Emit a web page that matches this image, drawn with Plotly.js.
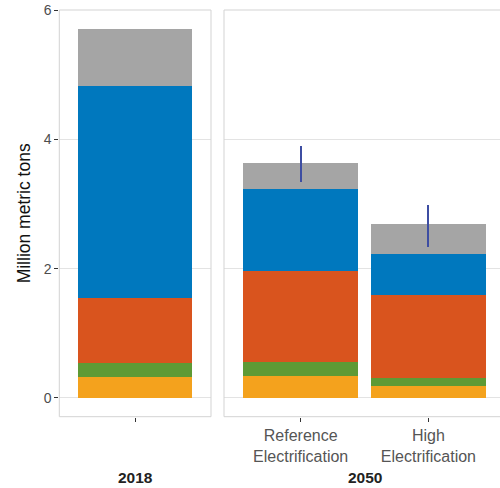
<!DOCTYPE html>
<html>
<head>
<meta charset="utf-8">
<script src="https://cdn.plot.ly/plotly-3.0.1.min.js"></script>
<style>html,body{margin:0;padding:0;background:#fff;overflow:hidden}#chart{width:500px;height:488px}</style>
</head>
<body>
<div id="chart"></div>
<script>
// Categories
const cats2018 = ["2018"];
const ticks2018 = [""];
const cats2050 = ["Reference Electrification", "High Electrification"];
const ticks2050 = ["Reference<br>Electrification", "High<br>Electrification"];
const panelLabels = ["2018", "2050"];

// Segment values (bottom to top), million metric tons
const yellow2018 = [0.33];  const yellow2050 = [0.34, 0.18];
const green2018  = [0.206]; const green2050  = [0.212, 0.133];
const orange2018 = [1.004]; const orange2050 = [1.417, 1.279];
const blue2018   = [3.285]; const blue2050   = [1.263, 0.629];
const gray2018   = [0.881]; const gray2050   = [0.396, 0.468];

// Error bars on 2050 totals
const errPlus2050  = [0.272, 0.294];
const errMinus2050 = [0.293, 0.355];

const colors = {yellow:"#F4A21D", green:"#5E9A35", orange:"#D9541E", blue:"#0078BE", gray:"#A5A5A5"};
const segs2018 = [["yellow",yellow2018],["green",green2018],["orange",orange2018],["blue",blue2018],["gray",gray2018]];
const segs2050 = [["yellow",yellow2050],["green",green2050],["orange",orange2050],["blue",blue2050],["gray",gray2050]];

const traces = [];
segs2018.forEach(([c,v]) => traces.push({type:"bar", x:cats2018, y:v, xaxis:"x", yaxis:"y",
  marker:{color:colors[c], line:{width:0}}, showlegend:false, hoverinfo:"skip", width:0.9}));
segs2050.forEach(([c,v],i) => {
  const t = {type:"bar", x:cats2050, y:v, xaxis:"x2", yaxis:"y2",
    marker:{color:colors[c], line:{width:0}}, showlegend:false, hoverinfo:"skip", width:0.9};
  if (i === segs2050.length-1) {
    t.error_y = {type:"data", symmetric:false, array:errPlus2050, arrayminus:errMinus2050,
      color:"#3D4DA2", thickness:2, width:0, visible:true};
  }
  traces.push(t);
});

const W=500, H=488;
const px = v => v/W, py = v => 1 - v/H;
const x1l=59.3, x1r=211, x2l=224, x2r=500, yt=10, yb=416.7;
const border = "#D3D3D3";
const shapes = [
  {type:"rect", xref:"paper", yref:"paper", x0:px(x1l), x1:px(x1r), y0:py(yb), y1:py(yt), line:{color:border,width:1}},
  {type:"line", xref:"paper", yref:"paper", x0:px(x2l), x1:px(x2l), y0:py(yb), y1:py(yt), line:{color:border,width:1}},
  {type:"line", xref:"paper", yref:"paper", x0:px(x2l), x1:1.01, y0:py(yt), y1:py(yt), line:{color:border,width:1}},
  {type:"line", xref:"paper", yref:"paper", x0:px(x2l), x1:1.01, y0:py(yb), y1:py(yb), line:{color:border,width:1}}
];

const font = "Liberation Sans, Arial, sans-serif";
const yax = {range:[-0.29, 6.0], domain:[py(yb), py(yt)], tickvals:[0,2,4,6], showgrid:true,
  gridcolor:"#E3E3E3", gridwidth:1, zeroline:false, showline:false, fixedrange:true};

const layout = {
  width:W, height:H, margin:{l:0,r:0,t:0,b:0}, paper_bgcolor:"#fff", plot_bgcolor:"rgba(0,0,0,0)",
  barmode:"stack", bargap:0.1, font:{family:font},
  xaxis:{domain:[px(x1l), px(x1r)], range:[-0.6,0.6], type:"category", tickvals:cats2018, ticktext:ticks2018,
    ticks:"outside", ticklen:4, tickcolor:"#333", showgrid:false, showline:false, zeroline:false, fixedrange:true},
  xaxis2:{domain:[px(x2l), px(x2r)], range:[-0.6,1.56], type:"category", tickvals:cats2050, ticktext:ticks2050,
    ticks:"outside", ticklen:4, tickcolor:"#333", tickfont:{size:16, color:"#555", family:font},
    showgrid:false, showline:false, zeroline:false, fixedrange:true},
  yaxis:Object.assign({}, yax, {anchor:"x", ticks:"outside", ticklen:4, tickcolor:"#333",
    tickfont:{size:14, color:"#4D4D4D", family:font},
    title:{text:"Million metric tons", font:{size:17.5, color:"#111", family:font}, standoff:8}}),
  yaxis2:Object.assign({}, yax, {anchor:"x2", showticklabels:false, ticks:""}),
  shapes:shapes,
  annotations:[
    {xref:"paper", yref:"paper", x:px((x1l+x1r)/2), y:py(477), text:"<b>"+panelLabels[0]+"</b>", showarrow:false,
      font:{size:15.5, color:"#222", family:font}, xanchor:"center", yanchor:"middle", borderpad:0},
    {xref:"paper", yref:"paper", x:px(364.5), y:py(477), text:"<b>"+panelLabels[1]+"</b>", showarrow:false,
      font:{size:15.5, color:"#222", family:font}, xanchor:"center", yanchor:"middle", borderpad:0}
  ]
};

Plotly.newPlot("chart", traces, layout, {displayModeBar:false, staticPlot:true});
</script>
</body>
</html>
